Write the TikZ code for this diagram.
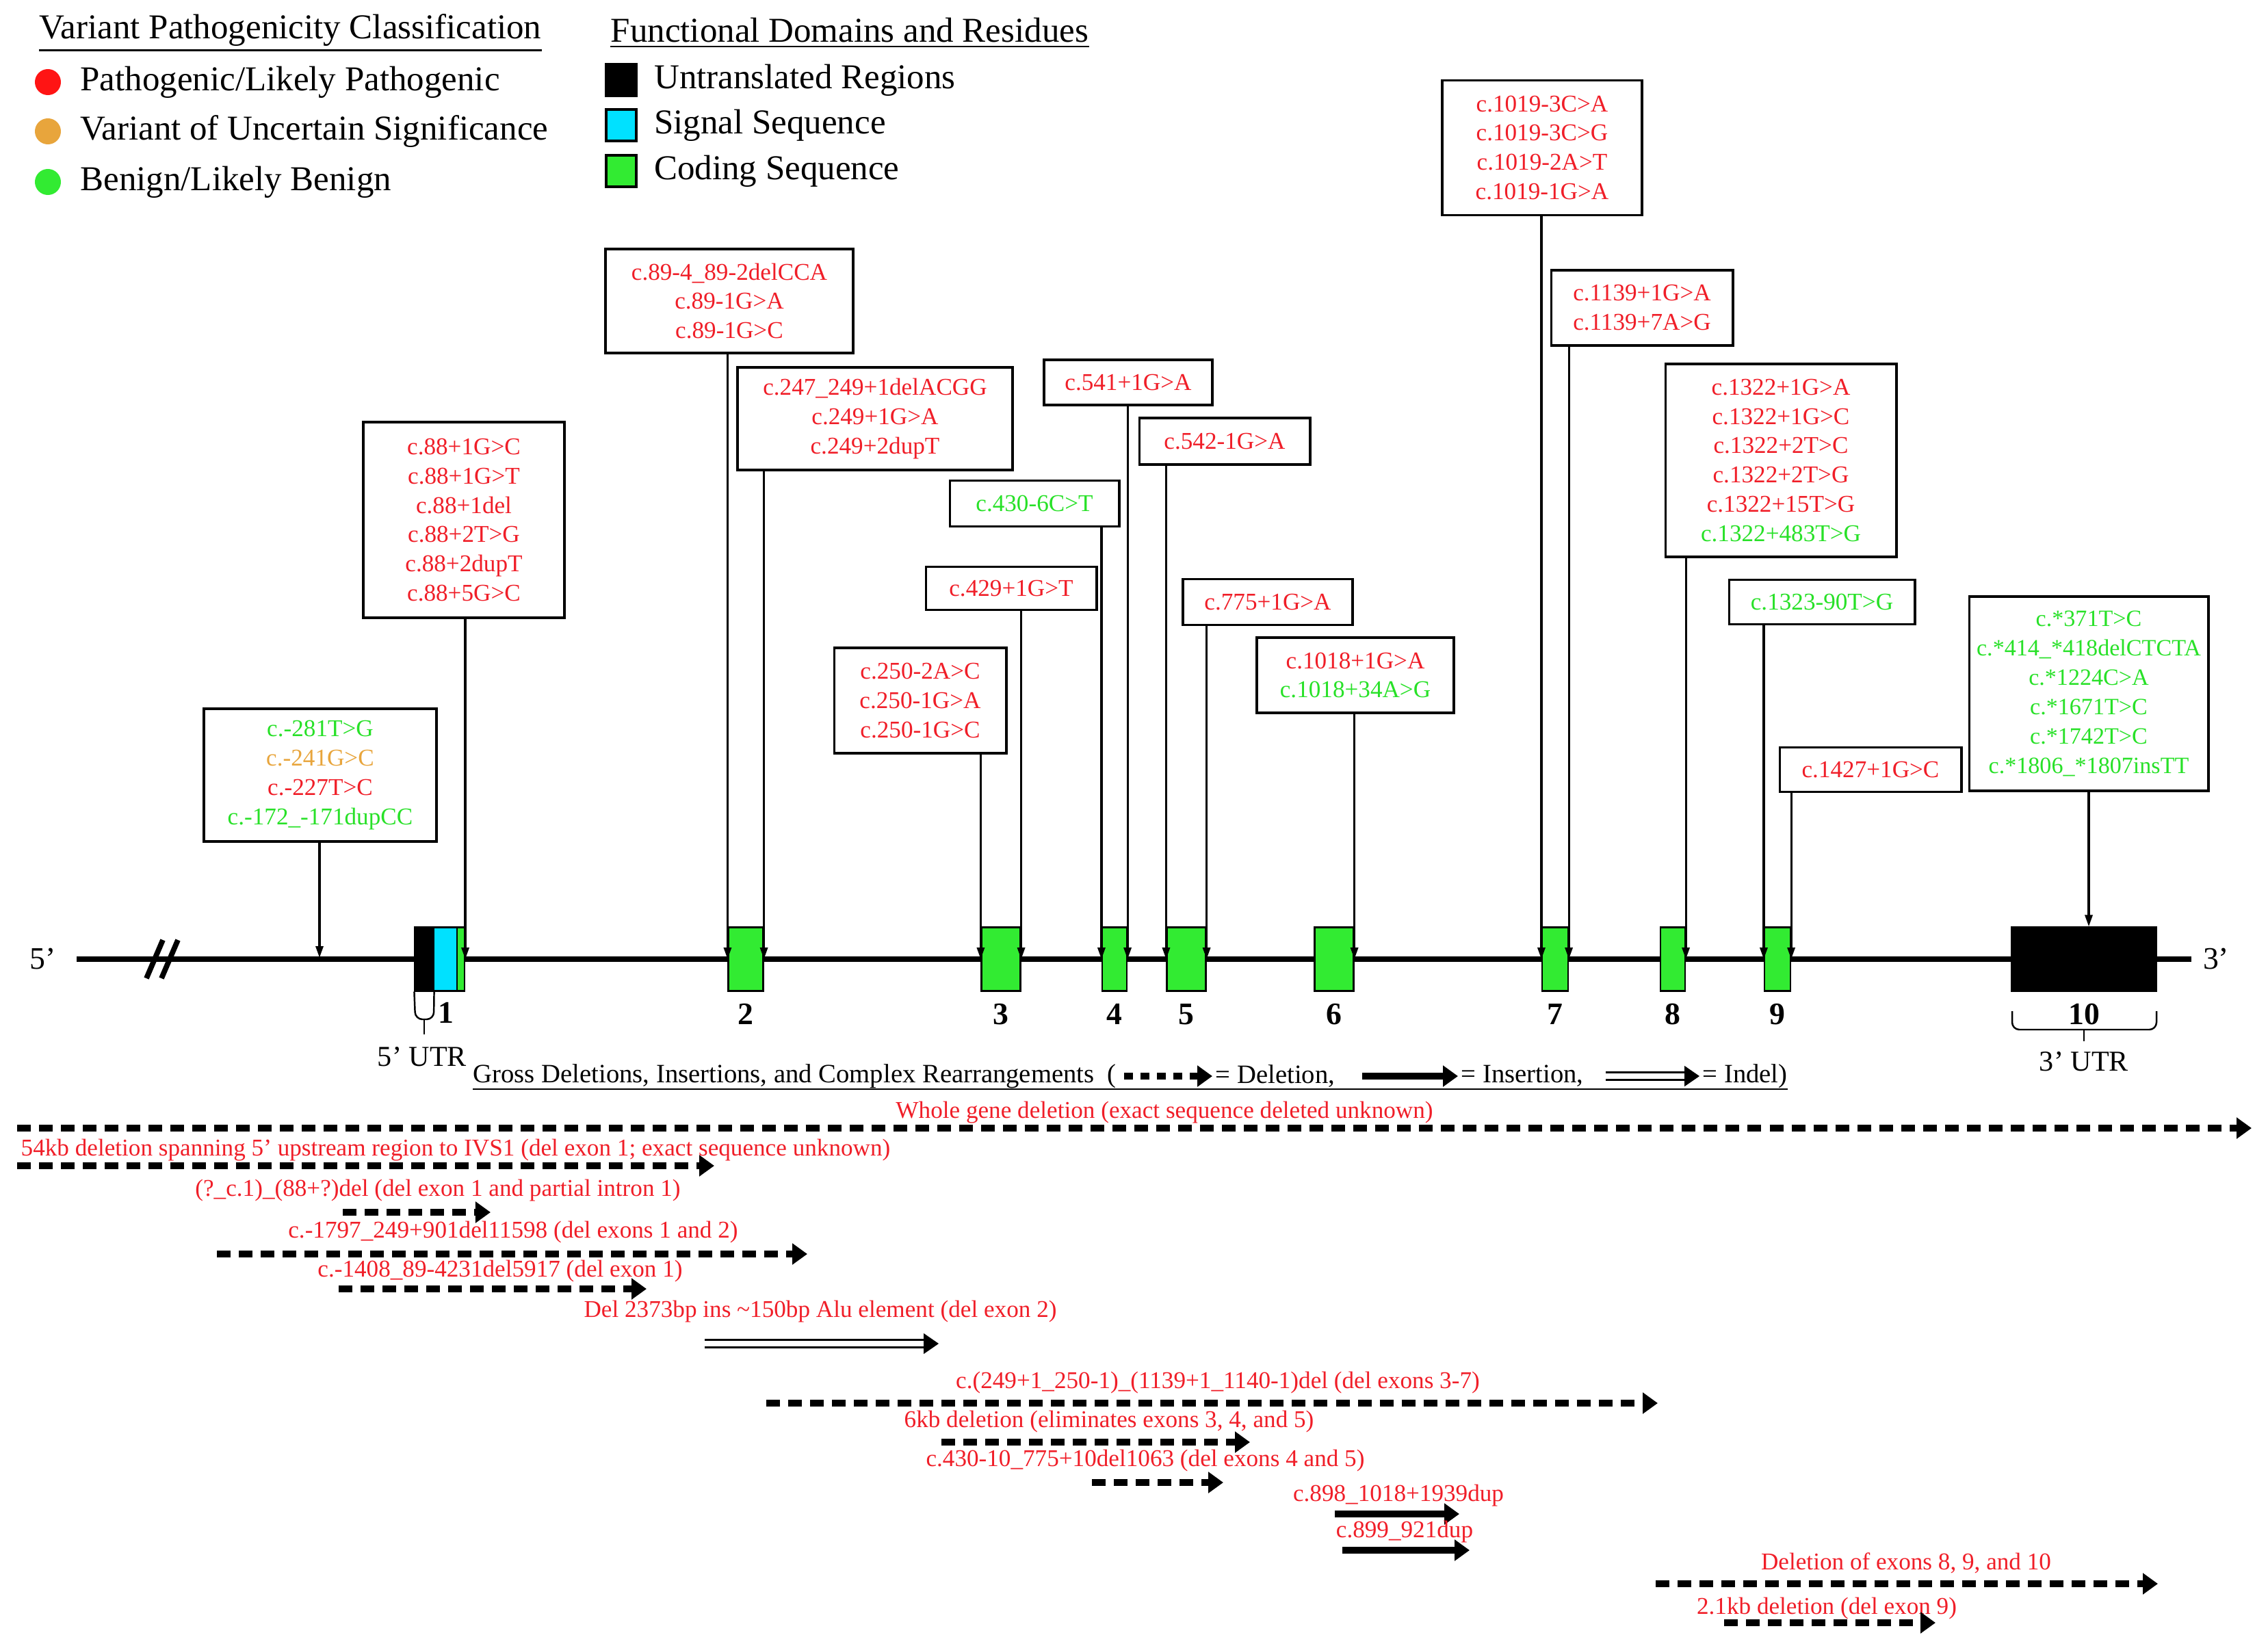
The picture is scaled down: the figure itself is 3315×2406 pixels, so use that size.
\documentclass[tikz,border=0pt]{standalone}
\usepackage{fontspec}
\setmainfont{Liberation Serif}
\usetikzlibrary{arrows.meta,positioning}

\definecolor{pathred}{RGB}{240,30,40}
\definecolor{vusorange}{RGB}{232,165,60}
\definecolor{bengreen}{RGB}{40,225,40}
\definecolor{dotred}{RGB}{255,20,20}
\definecolor{dotgreen}{RGB}{50,235,50}
\definecolor{sigcyan}{RGB}{0,225,255}
\definecolor{cdsgreen}{RGB}{50,235,50}

\newcommand{\pathv}[1]{\textcolor{pathred}{#1}}
\newcommand{\vusv}[1]{\textcolor{vusorange}{#1}}
\newcommand{\benv}[1]{\textcolor{bengreen}{#1}}

\begin{document}
\begin{tikzpicture}[x=0.01cm, y=-0.01cm,
    head/.style={font=\fontsize{14.5}{16}\selectfont, inner sep=0pt},
    leg/.style={font=\fontsize{14.5}{16}\selectfont, inner sep=0pt},
    dot/.style={circle, inner sep=0pt, minimum size=0.38cm},
    sq/.style={draw, line width=1.4pt, inner sep=0pt, minimum width=0.44cm, minimum height=0.46cm},
    varbox/.style={draw, line width=1.1pt, fill=white, align=center, inner sep=0pt,
        font=\fontsize{10}{12.2}\selectfont},
    pin/.style={line width=0.9pt, -{Triangle[length=1.7mm,width=1.1mm]}},
    exon/.style={draw, line width=0.6pt, inner sep=0pt, minimum height=0.93cm},
    exnum/.style={font=\fontsize{13}{13}\selectfont\bfseries, inner sep=0pt},
    gene/.style={line width=2.4pt},
    gtitle/.style={font=\fontsize{11}{12}\selectfont, inner sep=0pt},
    rowlbl/.style={text=pathred, font=\fontsize{10}{12}\selectfont, inner sep=0pt},
    delarr/.style={line width=2.8pt, dash pattern=on 2mm off 1.2mm,
        -{Triangle[length=2.2mm,width=3mm]}},
    insarr/.style={line width=2.8pt, -{Triangle[length=2.2mm,width=3mm]}},
    indel/.style={double, line width=0.8pt, double distance=2.2pt},
    tip/.style={line width=0.4pt, -{Triangle[length=2.2mm,width=3mm]}}
  ]
  \useasboundingbox (0,0) rectangle (3315,2406);

  % legends
  \node[head, anchor=west] (hvar) at (57,44) {Variant Pathogenicity Classification};
  \draw[line width=0.8pt] ([yshift=-1.5pt]hvar.south west) -- ([yshift=-1.5pt]hvar.south east);
  \node[dot, fill=dotred] (dred) at (70,120) {};
  \node[dot, fill=vusorange] (dvus) at (70,192) {};
  \node[dot, fill=dotgreen] (dben) at (70,266) {};
  \node[leg, right=0.27cm of dred] (lred) {Pathogenic/Likely Pathogenic};
  \node[leg, right=0.27cm of dvus] (lvus) {Variant of Uncertain Significance};
  \node[leg, right=0.27cm of dben] (lben) {Benign/Likely Benign};

  \node[head, anchor=west] (hdom) at (892,44) {Functional Domains and Residues};
  \draw[line width=0.8pt] ([yshift=-1.5pt]hdom.south west) -- ([yshift=-1.5pt]hdom.south east);
  \node[sq, fill=black] (sutr) at (908,117) {};
  \node[sq, fill=sigcyan] (ssig) at (908,183) {};
  \node[sq, fill=cdsgreen] (scds) at (908,250) {};
  \node[leg, right=0.23cm of sutr] (lutr) {Untranslated Regions};
  \node[leg, right=0.23cm of ssig] (lsig) {Signal Sequence};
  \node[leg, right=0.23cm of scds] (lcds) {Coding Sequence};

  % gene line
  \coordinate (gstart) at (112,1402);
  \coordinate (gend) at (3203,1402);
  \draw[gene] (gstart) -- (gend);
  \node[font=\fontsize{13}{13}\selectfont, inner sep=0pt] (five) at (63,1402) {5’};
  \node[font=\fontsize{13}{13}\selectfont, inner sep=0pt] (three) at (3239,1402) {3’};
  \draw[line width=2.2pt] (214,1430) -- (238,1374);
  \draw[line width=2.2pt] (236,1430) -- (260,1374);

  % exons
  \node[exon, fill=black, minimum width=0.27cm] (utr5) at (620,1402) {};
  \node[exon, fill=sigcyan, minimum width=0.34cm] (sig) at (651,1402) {};
  \node[exon, fill=cdsgreen, minimum width=0.11cm] (ex1) at (673.5,1402) {};
  \node[exon, fill=cdsgreen, minimum width=0.51cm] (ex2) at (1090,1402) {};
  \node[exon, fill=cdsgreen, minimum width=0.57cm] (ex3) at (1463,1402) {};
  \node[exon, fill=cdsgreen, minimum width=0.36cm] (ex4) at (1629,1402) {};
  \node[exon, fill=cdsgreen, minimum width=0.57cm] (ex5) at (1734,1402) {};
  \node[exon, fill=cdsgreen, minimum width=0.57cm] (ex6) at (1950,1402) {};
  \node[exon, fill=cdsgreen, minimum width=0.38cm] (ex7) at (2273,1402) {};
  \node[exon, fill=cdsgreen, minimum width=0.36cm] (ex8) at (2445,1402) {};
  \node[exon, fill=cdsgreen, minimum width=0.38cm] (ex9) at (2598,1402) {};
  \node[exon, fill=black, minimum width=2.11cm] (ex10) at (3046,1402) {};

  % exon numbers
  \node[exnum] (n1) at (652,1480) {1};
  \node[exnum, below=0.17cm of ex2] (n2) {2};
  \node[exnum, below=0.17cm of ex3] (n3) {3};
  \node[exnum, below=0.17cm of ex4] (n4) {4};
  \node[exnum, below=0.17cm of ex5] (n5) {5};
  \node[exnum, below=0.17cm of ex6] (n6) {6};
  \node[exnum, below=0.17cm of ex7] (n7) {7};
  \node[exnum, below=0.17cm of ex8] (n8) {8};
  \node[exnum, below=0.17cm of ex9] (n9) {9};
  \node[exnum, below=0.17cm of ex10] (n10) {10};

  % UTR brackets
  \draw[line width=0.7pt, rounded corners=3pt] (utr5.south west) -- (607,1490) -- (634,1490) -- (utr5.south east);
  \draw[line width=0.7pt] (620,1490) -- (620,1512);
  \node[font=\fontsize{12}{12}\selectfont, inner sep=0pt] (utr5lbl) at (617,1545) {5’ UTR};
  \draw[line width=0.7pt, rounded corners=3pt] (2941,1478) -- (2941,1505) -- (3152,1505) -- (3152,1478);
  \draw[line width=0.7pt] (3046,1505) -- (3046,1522);
  \node[font=\fontsize{12}{12}\selectfont, inner sep=0pt] (utr3lbl) at (3046,1552) {3’ UTR};

  % variant boxes
  \node[varbox, minimum width=3.4cm, minimum height=1.94cm] (vA) at (468,1133)
    {\benv{c.-281T>G}\\ \vusv{c.-241G>C}\\ \pathv{c.-227T>C}\\ \benv{c.-172\_-171dupCC}};
  \node[varbox, minimum width=2.93cm, minimum height=2.86cm] (vB) at (678,760)
    {\pathv{c.88+1G>C}\\ \pathv{c.88+1G>T}\\ \pathv{c.88+1del}\\ \pathv{c.88+2T>G}\\ \pathv{c.88+2dupT}\\ \pathv{c.88+5G>C}};
  \node[varbox, minimum width=3.61cm, minimum height=1.52cm] (vC) at (1066,440)
    {\pathv{c.89-4\_89-2delCCA}\\ \pathv{c.89-1G>A}\\ \pathv{c.89-1G>C}};
  \node[varbox, minimum width=4.02cm, minimum height=1.5cm] (vD) at (1279,612)
    {\pathv{c.247\_249+1delACGG}\\ \pathv{c.249+1G>A}\\ \pathv{c.249+2dupT}};
  \node[varbox, minimum width=2.51cm, minimum height=1.54cm] (vE) at (1345,1024)
    {\pathv{c.250-2A>C}\\ \pathv{c.250-1G>A}\\ \pathv{c.250-1G>C}};
  \node[varbox, minimum width=2.49cm, minimum height=0.63cm] (vF) at (1478,860) {\pathv{c.429+1G>T}};
  \node[varbox, minimum width=2.47cm, minimum height=0.67cm] (vG) at (1512,736) {\benv{c.430-6C>T}};
  \node[varbox, minimum width=2.46cm, minimum height=0.66cm] (vH) at (1649,559) {\pathv{c.541+1G>A}};
  \node[varbox, minimum width=2.49cm, minimum height=0.68cm] (vI) at (1790,645) {\pathv{c.542-1G>A}};
  \node[varbox, minimum width=2.48cm, minimum height=0.67cm] (vJ) at (1853,880) {\pathv{c.775+1G>A}};
  \node[varbox, minimum width=2.88cm, minimum height=1.1cm] (vK) at (1981,987)
    {\pathv{c.1018+1G>A}\\ \benv{c.1018+34A>G}};
  \node[varbox, minimum width=2.92cm, minimum height=1.97cm] (vL) at (2254,216)
    {\pathv{c.1019-3C>A}\\ \pathv{c.1019-3C>G}\\ \pathv{c.1019-2A>T}\\ \pathv{c.1019-1G>A}};
  \node[varbox, minimum width=2.65cm, minimum height=1.1cm] (vM) at (2400,450)
    {\pathv{c.1139+1G>A}\\ \pathv{c.1139+7A>G}};
  \node[varbox, minimum width=3.37cm, minimum height=2.81cm] (vN) at (2603,673)
    {\pathv{c.1322+1G>A}\\ \pathv{c.1322+1G>C}\\ \pathv{c.1322+2T>C}\\ \pathv{c.1322+2T>G}\\ \pathv{c.1322+15T>G}\\ \benv{c.1322+483T>G}};
  \node[varbox, minimum width=2.71cm, minimum height=0.65cm] (vO) at (2663,880) {\benv{c.1323-90T>G}};
  \node[varbox, minimum width=2.65cm, minimum height=0.65cm] (vP) at (2734,1125) {\pathv{c.1427+1G>C}};
  \node[varbox, minimum width=3.49cm, minimum height=2.83cm, font=\fontsize{9.7}{12.2}\selectfont] (vQ) at (3053,1014)
    {\benv{c.*371T>C}\\ \benv{c.*414\_*418delCTCTA}\\ \benv{c.*1224C>A}\\ \benv{c.*1671T>C}\\ \benv{c.*1742T>C}\\ \benv{c.*1806\_*1807insTT}};

  % arrows to the gene
  \coordinate (up5) at (467,1400);
  \draw[pin] (vA.south -| up5) -- (up5);
  \draw[pin] (vB.south -| ex1.east) -- (ex1.east);
  \draw[pin] (vC.south -| ex2.west) -- (ex2.west);
  \draw[pin] (vD.south -| ex2.east) -- (ex2.east);
  \draw[pin] (vE.south -| ex3.west) -- (ex3.west);
  \draw[pin] (vF.south -| ex3.east) -- (ex3.east);
  \draw[pin] (vG.south -| ex4.west) -- (ex4.west);
  \draw[pin] (vH.south -| ex4.east) -- (ex4.east);
  \draw[pin] (vI.south -| ex5.west) -- (ex5.west);
  \draw[pin] (vJ.south -| ex5.east) -- (ex5.east);
  \draw[pin] (vK.south -| ex6.east) -- (ex6.east);
  \draw[pin] (vL.south -| ex7.west) -- (ex7.west);
  \draw[pin] (vM.south -| ex7.east) -- (ex7.east);
  \draw[pin] (vN.south -| ex8.east) -- (ex8.east);
  \draw[pin] (vO.south -| ex9.west) -- (ex9.west);
  \draw[pin] (vP.south -| ex9.east) -- (ex9.east);
  \draw[pin] (vQ.south) -- (vQ.south |- ex10.north);

  % gross deletions, insertions and rearrangements
  \node[gtitle, anchor=west] (gt) at (691,1573) {Gross Deletions, Insertions, and Complex Rearrangements\enspace(};
  \coordinate (kd1) at (1643,1573);
  \coordinate (kd2) at (1772,1573);
  \draw[delarr, dash pattern=on 1.3mm off 1.1mm] (kd1) -- (kd2);
  \node[gtitle, anchor=west] (kdel) at (1776,1573) {= Deletion,};
  \coordinate (ki1) at (1991,1573);
  \coordinate (ki2) at (2131,1573);
  \draw[insarr] (ki1) -- (ki2);
  \node[gtitle, anchor=west] (kins) at (2135,1573) {= Insertion,};
  \coordinate (kx1) at (2347,1573);
  \coordinate (kx2) at (2484,1573);
  \draw[indel] (kx1) -- ([xshift=-1.8mm]kx2);
  \draw[tip] ([xshift=-0.5mm]kx2) -- (kx2);
  \node[gtitle, anchor=west] (kidl) at (2488,1573) {= Indel)};
  \draw[line width=0.8pt] (691,1592) -- (kidl.east |- 0,1592);

  \node[rowlbl] (r1) at (1702,1626) {Whole gene deletion (exact sequence deleted unknown)};
  \coordinate (a1) at (25,1649); \coordinate (b1) at (3291,1649);
  \draw[delarr] (a1) -- (b1);
  \node[rowlbl, anchor=west] (r2) at (30,1681) {54kb deletion spanning 5’ upstream region to IVS1 (del exon 1; exact sequence unknown)};
  \coordinate (a2) at (25,1704); \coordinate (b2) at (1044,1704);
  \draw[delarr] (a2) -- (b2);
  \node[rowlbl] (r3) at (640,1740) {(?\_c.1)\_(88+?)del (del exon 1 and partial intron 1)};
  \coordinate (a3) at (501,1772); \coordinate (b3) at (717,1772);
  \draw[delarr] (a3) -- (b3);
  \node[rowlbl] (r4) at (750,1801) {c.-1797\_249+901del11598 (del exons 1 and 2)};
  \coordinate (a4) at (317,1833); \coordinate (b4) at (1180,1833);
  \draw[delarr] (a4) -- (b4);
  \node[rowlbl] (r5) at (731,1858) {c.-1408\_89-4231del5917 (del exon 1)};
  \coordinate (a5) at (495,1884); \coordinate (b5) at (945,1884);
  \draw[delarr] (a5) -- (b5);
  \node[rowlbl] (r6) at (1199,1917) {Del 2373bp ins \textasciitilde150bp Alu element (del exon 2)};
  \coordinate (a6) at (1030,1964); \coordinate (b6) at (1372,1964);
  \draw[indel] (a6) -- ([xshift=-1.8mm]b6);
  \draw[tip] ([xshift=-0.5mm]b6) -- (b6);
  \node[rowlbl] (r7) at (1780,2021) {c.(249+1\_250-1)\_(1139+1\_1140-1)del (del exons 3-7)};
  \coordinate (a7) at (1120,2051); \coordinate (b7) at (2423,2051);
  \draw[delarr] (a7) -- (b7);
  \node[rowlbl] (r8) at (1621,2078) {6kb deletion (eliminates exons 3, 4, and 5)};
  \coordinate (a8) at (1376,2108); \coordinate (b8) at (1827,2108);
  \draw[delarr] (a8) -- (b8);
  \node[rowlbl] (r9) at (1674,2135) {c.430-10\_775+10del1063 (del exons 4 and 5)};
  \coordinate (a9) at (1596,2167); \coordinate (b9) at (1788,2167);
  \draw[delarr] (a9) -- (b9);
  \node[rowlbl] (r10) at (2044,2186) {c.898\_1018+1939dup};
  \coordinate (a10) at (1951,2213); \coordinate (b10) at (2133,2213);
  \draw[insarr] (a10) -- (b10);
  \node[rowlbl] (r11) at (2053,2239) {c.899\_921dup};
  \coordinate (a11) at (1962,2266); \coordinate (b11) at (2148,2266);
  \draw[insarr] (a11) -- (b11);
  \node[rowlbl] (r12) at (2786,2285) {Deletion of exons 8, 9, and 10};
  \coordinate (a12) at (2420,2315); \coordinate (b12) at (3154,2315);
  \draw[delarr] (a12) -- (b12);
  \node[rowlbl] (r13) at (2670,2351) {2.1kb deletion (del exon 9)};
  \coordinate (a13) at (2520,2372); \coordinate (b13) at (2829,2372);
  \draw[delarr] (a13) -- (b13);
\end{tikzpicture}
\end{document}
